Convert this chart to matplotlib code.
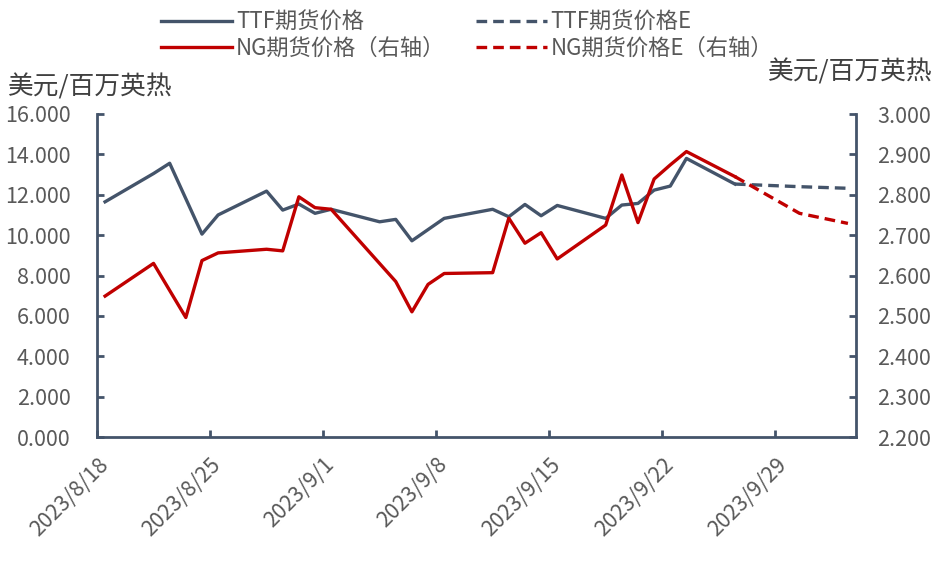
import matplotlib
matplotlib.use('Agg')
import matplotlib.pyplot as plt
import pandas as pd

plt.rcParams['font.family'] = ['Noto Sans CJK SC', 'DejaVu Sans']

# TTF 期货价格 (左轴)
ttf_dates = ['2023-08-18', '2023-08-21', '2023-08-22', '2023-08-24', '2023-08-25',
             '2023-08-28', '2023-08-29', '2023-08-30', '2023-08-31', '2023-09-01',
             '2023-09-04', '2023-09-05', '2023-09-06', '2023-09-08', '2023-09-11',
             '2023-09-12', '2023-09-13', '2023-09-14', '2023-09-15', '2023-09-18',
             '2023-09-19', '2023-09-20', '2023-09-21', '2023-09-22', '2023-09-23',
             '2023-09-26']
ttf_vals = [11.65, 13.05, 13.56, 10.05, 11.00, 12.18, 11.24, 11.54, 11.08, 11.28,
            10.66, 10.78, 9.72, 10.83, 11.28, 10.91, 11.52, 10.96, 11.47, 10.83,
            11.49, 11.57, 12.23, 12.43, 13.80, 12.53]

# NG 期货价格 (右轴)
ng_dates = ['2023-08-18', '2023-08-21', '2023-08-23', '2023-08-24', '2023-08-25',
            '2023-08-28', '2023-08-29', '2023-08-30', '2023-08-31', '2023-09-01',
            '2023-09-05', '2023-09-06', '2023-09-07', '2023-09-08', '2023-09-11',
            '2023-09-12', '2023-09-13', '2023-09-14', '2023-09-15', '2023-09-18',
            '2023-09-19', '2023-09-20', '2023-09-21', '2023-09-22', '2023-09-23',
            '2023-09-26']
ng_vals = [2.549, 2.630, 2.496, 2.637, 2.656, 2.665, 2.661, 2.795, 2.768, 2.764,
           2.585, 2.510, 2.578, 2.605, 2.607, 2.742, 2.680, 2.706, 2.641, 2.725,
           2.849, 2.731, 2.839, 2.874, 2.907, 2.845]

# 预估
est_dates = ['2023-09-26', '2023-09-30', '2023-10-03']
ttf_est = [12.53, 12.40, 12.32]
ng_est = [2.845, 2.754, 2.729]

tick_dates = ['2023-08-18', '2023-08-25', '2023-09-01', '2023-09-08',
              '2023-09-15', '2023-09-22', '2023-09-29']

blue = '#44546A'
red = '#C00000'
gray = '#595959'

# excel 日期轴: 点放在当天的中间
half = pd.Timedelta(hours=12)
ttf_x = pd.to_datetime(ttf_dates) + half
ng_x = pd.to_datetime(ng_dates) + half
est_x = pd.to_datetime(est_dates) + half

fig = plt.figure(figsize=(9.4, 5.65), dpi=100)
ax = fig.add_axes([97 / 940, 1 - 437 / 565, (856 - 97) / 940, (437 - 114) / 565])
ax2 = ax.twinx()

l1, = ax.plot(ttf_x, ttf_vals, color=blue, lw=2.4, label='TTF期货价格')
l2, = ax.plot(est_x, ttf_est, color=blue, lw=2.4, dashes=(3.2, 1.8), label='TTF期货价格E')
l3, = ax2.plot(ng_x, ng_vals, color=red, lw=2.4, label='NG期货价格（右轴）')
l4, = ax2.plot(est_x, ng_est, color=red, lw=2.4, dashes=(3.2, 1.8), label='NG期货价格E（右轴）')

ax.set_xlim(pd.Timestamp('2023-08-18'), pd.Timestamp('2023-10-04'))
ax.set_ylim(0, 16)
ax2.set_ylim(2.2, 3.0)
ax.set_yticks([0, 2, 4, 6, 8, 10, 12, 14, 16])
ax2.set_yticks([2.2, 2.3, 2.4, 2.5, 2.6, 2.7, 2.8, 2.9, 3.0])
ax.yaxis.set_major_formatter(matplotlib.ticker.FormatStrFormatter('%.3f'))
ax2.yaxis.set_major_formatter(matplotlib.ticker.FormatStrFormatter('%.3f'))
ax.set_xticks(pd.to_datetime(tick_dates))
ax.set_xticklabels([f'{d.year}/{d.month}/{d.day}' for d in pd.to_datetime(tick_dates)])

for a in (ax, ax2):
    a.spines['top'].set_visible(False)
    for s in ('left', 'right', 'bottom'):
        a.spines[s].set_color(blue)
        a.spines[s].set_linewidth(2.0)
ax2.spines['left'].set_visible(False)
ax2.spines['bottom'].set_visible(False)
ax.spines['right'].set_visible(False)

ax.tick_params(axis='y', direction='in', length=5, width=2, color=blue,
               labelsize=15.5, labelcolor=gray, pad=19)
ax.tick_params(axis='x', direction='in', length=5, width=2, color=blue,
               labelsize=15.5, labelcolor=gray, pad=12)
ax2.tick_params(axis='y', direction='in', length=5, width=2, color=blue,
                labelsize=15.5, labelcolor=gray, pad=15)
plt.setp(ax.get_xticklabels(), rotation=45, ha='right', va='top', rotation_mode='anchor')

fig.text(8 / 940, 1 - 87 / 565, '美元/百万英热', fontsize=18.5, color='#404040',
         ha='left', va='center')
fig.text(933 / 940, 1 - 72 / 565, '美元/百万英热', fontsize=18.5, color='#404040',
         ha='right', va='center')

fig.legend(handles=[l1, l3, l2, l4], ncol=2, frameon=False, fontsize=16,
           loc='upper left', bbox_to_anchor=(148 / 940, 1.005),
           handlelength=3.2, handletextpad=0.15, columnspacing=1.4,
           labelspacing=0.15, borderpad=0.1, labelcolor=gray)

fig.savefig('out.png', dpi=100)
